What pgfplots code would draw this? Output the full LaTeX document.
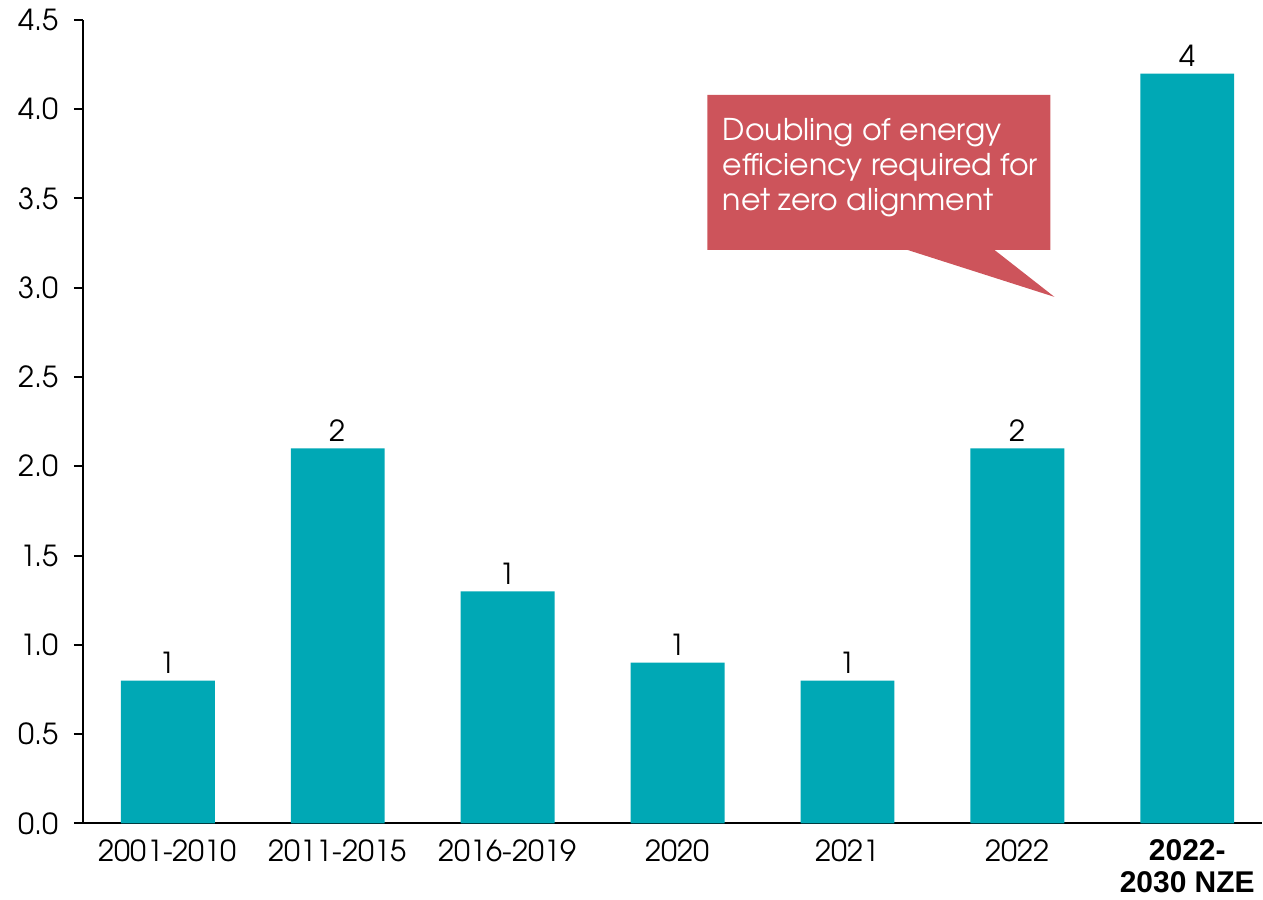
\documentclass[border=0pt]{standalone}
\usepackage{fontspec}
\setmainfont{TeX Gyre Adventor}
\newfontfamily\arialfont{Liberation Sans}
\usepackage{pgfplots}
\pgfplotsset{compat=1.18}
\definecolor{barteal}{RGB}{0,168,181}
\definecolor{callred}{RGB}{205,84,91}

\begin{document}
\begin{tikzpicture}
\begin{axis}[
    width=590pt, height=402pt, scale only axis,
    clip=false,
    xmin=-0.5, xmax=6.44,
    ymin=0, ymax=4.5,
    axis x line*=bottom,
    axis y line*=left,
    axis line style={black, line width=1pt},
    ytick={0,0.5,...,4.5},
    yticklabel={\pgfmathprintnumber[fixed,fixed zerofill,precision=1]{\tick}},
    /pgf/number format/assume math mode=true,
    tick align=outside,
    major tick length=4.5pt,
    ytick style={black, line width=1pt},
    xtick style={draw=none},
    tick label style={font=\fontsize{14.5}{16}\selectfont, black},
    yticklabel style={xshift=-4pt},
    xtick={0,...,6},
    xticklabels={2001-2010,2011-2015,2016-2019,2020,2021,2022,{{\arialfont\bfseries\fontsize{15}{13}\selectfont 2022-}\\{\arialfont\bfseries\fontsize{15}{13}\selectfont 2030 NZE}}},
    xticklabel style={align=center, yshift=0pt},
    ybar,
    bar width=47pt,
    nodes near coords,
    point meta=explicit symbolic,
    nodes near coords style={font=\fontsize{14.5}{16}\selectfont, black},
]
\addplot[fill=barteal, draw=none] coordinates {
    (0,0.8) [1]
    (1,2.1) [2]
    (2,1.3) [1]
    (3,0.9) [1]
    (4,0.8) [1]
    (5,2.1) [2]
    (6,4.2) [4]
};
\fill[callred] (axis cs:3.176,4.08) -- (axis cs:5.194,4.08) -- (axis cs:5.194,3.212)
    -- (axis cs:4.865,3.212) -- (axis cs:5.218,2.949) -- (axis cs:4.353,3.212)
    -- (axis cs:3.176,3.212) -- cycle;
\node[anchor=north west, inner sep=0pt, align=left, text=white,
      font=\fontsize{15}{17.5}\selectfont] at (axis cs:3.265,3.95)
    {Doubling of energy\\efficiency required for\\net zero alignment};
\path ([xshift=-41.5pt,yshift=-34pt]rel axis cs:0,0) rectangle ([yshift=10pt]rel axis cs:1,1);
\end{axis}
\end{tikzpicture}
\end{document}
